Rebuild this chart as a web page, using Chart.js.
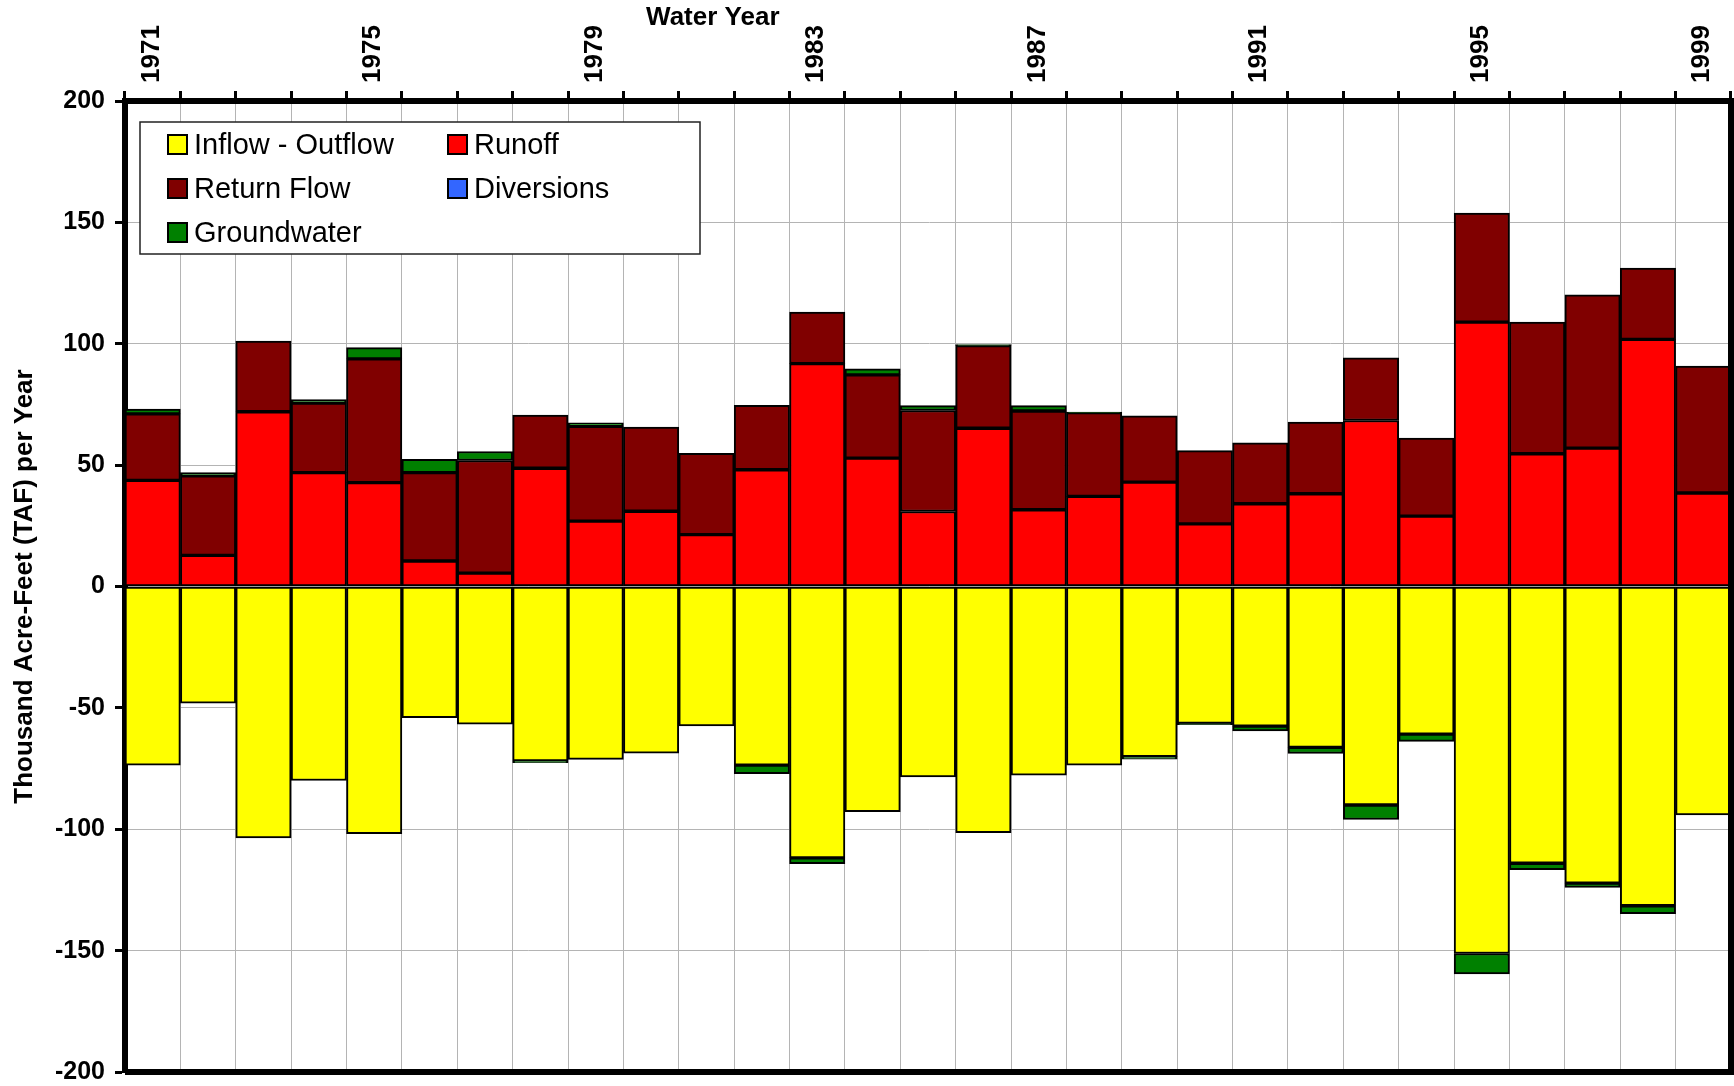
<!DOCTYPE html>
<html>
<head>
<title>Water Year balance</title>
<style>
  html, body { margin: 0; padding: 0; background: #fff; }
  #wrap { width: 1734px; height: 1086px; }
</style>
</head>
<body>
<div id="wrap"><canvas id="barChart"></canvas></div>
<script src="https://cdn.jsdelivr.net/npm/chart.js@4.4.1/dist/chart.umd.min.js"></script>
<script>
// years along the top axis
var YEARS = ['1971','1972','1973','1974','1975','1976','1977','1978','1979','1980',
             '1981','1982','1983','1984','1985','1986','1987','1988','1989','1990',
             '1991','1992','1993','1994','1995','1996','1997','1998','1999'];
var LABELLED_YEARS = ['1971','1975','1979','1983','1987','1991','1995','1999'];
var Y_TICKS = [-200, -150, -100, -50, 0, 50, 100, 150, 200];

// series, thousand acre-feet per year
var INFLOW_OUTFLOW = [-73.6,-48.1,-103.6,-79.9,-101.8,-54,-56.7,-71.9,-71.2,-68.7,
                      -57.4,-73.6,-111.8,-92.8,-78.4,-101.4,-77.7,-73.6,-70.1,-56.4,
                      -57.5,-66.3,-90,-60.8,-151.2,-114,-122.2,-131.5,-94.1];
var RUNOFF = [43.7,12.8,72,46.9,42.8,10.5,5.5,48.7,26.9,31,
              21.4,48.1,91.8,52.9,30.9,65.2,31.6,37.1,43,25.8,
              34.1,38.2,68.4,29,108.9,54.7,57,101.8,38.5];
var RETURN_FLOW = [27.4,32.8,29.1,28.7,51,36.4,46.4,21.9,39.1,34.7,
                   33.5,26.5,21.2,34.3,41.6,34,40.7,34.5,27.3,30.2,
                   25.1,29.5,25.8,32.1,44.9,54.2,63.2,29.4,52.3];
var DIVERSIONS = [0,0,0,0,0,0,0,0,0,0,
                  0,0,0,0,0,0,0,0,0,0,
                  0,0,0,0,0,0,0,0,0];
var GROUNDWATER = [2,1.3,0,1.4,4.6,5.5,3.7,-0.7,1.4,0,
                   0,-3.5,-2.4,2.5,2,0.5,2.2,0.3,-1,-0.5,
                   -2,-2.5,-6,-3,-8.4,-2.7,-1.8,-3.3,0];

var FONT = "'Liberation Sans', Arial, sans-serif";

function mkSet(label, data, color) {
  return {
    label: label,
    data: data,
    backgroundColor: color,
    borderColor: '#000',
    borderWidth: 2,
    borderSkipped: false,
    categoryPercentage: 1.0,
    barPercentage: 1.0
  };
}

// thick frame on right + bottom, plus the "Water Year" heading
var framePlugin = {
  id: 'frame',
  afterDraw: function(chart) {
    var c = chart.ctx, a = chart.chartArea;
    c.save();
    c.strokeStyle = '#000';
    c.lineWidth = 6;
    c.beginPath();
    c.moveTo(a.left, a.bottom);
    c.lineTo(a.right, a.bottom);
    c.lineTo(a.right, a.top - 3);
    c.stroke();
    c.fillStyle = '#000';
    c.font = 'bold 26px ' + FONT;
    c.textAlign = 'center';
    c.textBaseline = 'middle';
    c.fillText('Water Year', a.left + (a.right - a.left) * 0.366, 18);
    c.restore();
  }
};

// legend box inside the plot, two columns
var legendPlugin = {
  id: 'boxLegend',
  afterDraw: function(chart) {
    var c = chart.ctx, a = chart.chartArea;
    var x0 = a.left + 15, y0 = a.top + 21, w = 560, h = 132;
    c.save();
    c.fillStyle = '#fff';
    c.fillRect(x0, y0, w, h);
    c.strokeStyle = '#222';
    c.lineWidth = 1.5;
    c.strokeRect(x0, y0, w, h);
    c.font = '29px ' + FONT;
    c.textBaseline = 'middle';
    chart.data.datasets.forEach(function(ds, i) {
      var col = i % 2, row = Math.floor(i / 2);
      var bx = x0 + 28 + col * 280, by = y0 + 23 + row * 44;
      c.fillStyle = ds.backgroundColor;
      c.fillRect(bx, by - 10, 19, 19);
      c.strokeStyle = '#000';
      c.lineWidth = 2;
      c.strokeRect(bx, by - 10, 19, 19);
      c.fillStyle = '#000';
      c.fillText(ds.label, bx + 26, by + 1);
    });
    c.restore();
  }
};

var ctx = document.getElementById('barChart').getContext('2d');
var myChart = new Chart(ctx, {
  type: 'bar',
  data: {
    labels: YEARS,
    datasets: [
      mkSet('Inflow - Outflow', INFLOW_OUTFLOW, '#ffff00'),
      mkSet('Runoff', RUNOFF, '#ff0000'),
      mkSet('Return Flow', RETURN_FLOW, '#800000'),
      mkSet('Diversions', DIVERSIONS, '#3366ff'),
      mkSet('Groundwater', GROUNDWATER, '#008000')
    ]
  },
  options: {
    responsive: true,
    maintainAspectRatio: false,
    animation: false,
    layout: { padding: { top: 0, right: 3, bottom: 14, left: 0 } },
    plugins: {
      legend: { display: false },
      tooltip: { enabled: false }
    },
    scales: {
      x: {
        position: 'top',
        stacked: true,
        offset: true,
        grid: { offset: true, color: '#b4b4b4', lineWidth: 1, tickColor: '#000', tickWidth: 3, tickLength: 10 },
        border: { color: '#000', width: 6 },
        ticks: {
          autoSkip: false,
          minRotation: 90,
          maxRotation: 90,
          padding: 8,
          labelOffset: 30,
          color: '#000',
          font: { family: FONT, size: 26, weight: 'bold' },
          callback: function(v, i) {
            return LABELLED_YEARS.indexOf(YEARS[i]) >= 0 ? YEARS[i] : '';
          }
        },
        afterFit: function(scale) {
          scale.height = 101;
          scale.paddingLeft = 0;
          scale.paddingRight = 0;
        }
      },
      y: {
        stacked: true,
        min: Y_TICKS[0],
        max: Y_TICKS[Y_TICKS.length - 1],
        afterBuildTicks: function(scale) {
          scale.ticks = Y_TICKS.map(function(v) { return { value: v }; });
        },
        grid: { color: '#b4b4b4', lineWidth: 1, tickColor: '#000', tickWidth: 3, tickLength: 10 },
        border: { color: '#000', width: 6 },
        ticks: {
          padding: 10,
          color: '#000',
          font: { family: FONT, size: 25, weight: 'bold' }
        },
        title: {
          display: true,
          text: 'Thousand Acre-Feet (TAF) per Year',
          color: '#000',
          padding: { top: 9, bottom: 0 },
          font: { family: FONT, size: 26, weight: 'bold' }
        },
        afterFit: function(scale) {
          scale.width = 125;
          scale.paddingTop = 0;
          scale.paddingBottom = 0;
        }
      }
    }
  },
  plugins: [framePlugin, legendPlugin]
});
</script>
</body>
</html>
